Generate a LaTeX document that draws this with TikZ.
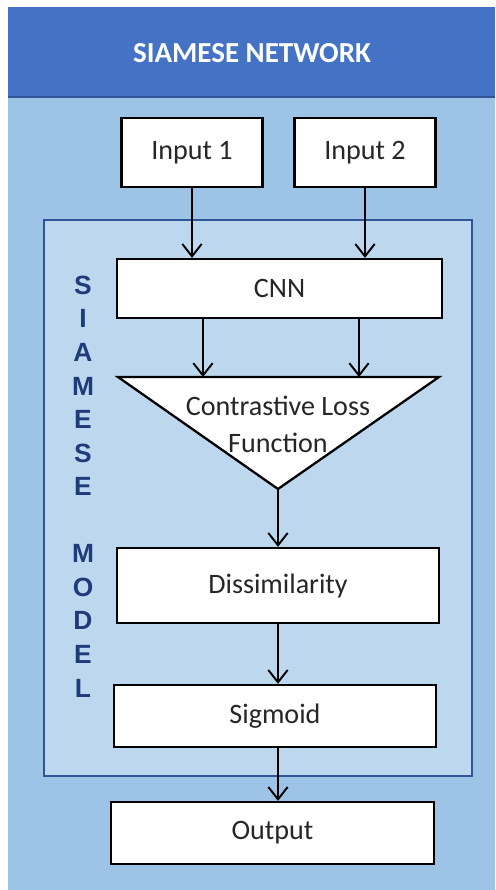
\documentclass[tikz,border=0pt]{standalone}
\usepackage{fontspec}
\setmainfont{Carlito}
\newfontfamily\arialfont{Liberation Sans}
\usepackage{tikz}
\usetikzlibrary{calc}
\usetikzlibrary{arrows.meta}
\definecolor{bandblue}{HTML}{4472C4}
\definecolor{paleblue}{HTML}{9DC3E6}
\definecolor{modelblue}{HTML}{BDD7EE}
\definecolor{edgeblue}{HTML}{2F5597}
\definecolor{letterblue}{HTML}{1F3B7A}
\definecolor{textgray}{HTML}{262626}

\begin{document}
\begin{tikzpicture}[x=0.02cm,y=-0.02cm]
        \tikzset{box/.style={draw=black,fill=white,line width=1.3pt,text=textgray,inner sep=0pt,font=\fontsize{16}{19}\selectfont},
                 arr/.style={-{Straight Barb[length=7pt,width=11pt]},line width=1.1pt}}
        
        \coordinate (page_start) at (0,0);
        \coordinate (page_end) at (495,890);
        \coordinate (band_start) at (8,7);
        \coordinate (band_end) at (495,97);
        \coordinate (model_start) at (44,220);
        \coordinate (model_end) at (472,776);
        \coordinate (t_left) at (118,377);
        \coordinate (t_right) at (439,377);
        \coordinate (t_bottom) at (278,489);
        \coordinate (in_1) at (203,377);
        \coordinate (in_2) at (359,377);
        
        \useasboundingbox (page_start) rectangle (page_end);
        \fill [white] (page_start) rectangle (page_end);
        \fill [paleblue] (band_start) rectangle (page_end);
        \fill [bandblue] (band_start) rectangle (band_end);
        \draw [edgeblue,line width=0.8pt] ($(band_start)+(0,90)$) -- (band_end);
        \filldraw [fill=modelblue,draw=edgeblue,line width=1.1pt] (model_start) rectangle (model_end);
        
        %title
        \node[text=white,font=\bfseries\fontsize{16.5}{20}\selectfont] (title) at (252,53) {SIAMESE NETWORK};
        
        %inputs
        \node[box,minimum width=2.82cm,minimum height=1.38cm] (input1) at (192,152.5) {Input 1};
        \node[box,minimum width=2.82cm,minimum height=1.38cm] (input2) at (365,152.5) {Input 2};
        
        %model
        \node[text=letterblue,align=center,font=\arialfont\bfseries\fontsize{15}{19.1}\selectfont] (model) at (83,486.5) {S\\I\\A\\M\\E\\S\\E\\[19.1pt]M\\O\\D\\E\\L};
        \node[box,minimum width=6.5cm,minimum height=1.18cm] (cnn) at (279.5,288.5) {CNN};
        \filldraw [fill=white,draw=black,line width=1.3pt,line join=miter] (t_left) -- (t_right) -- (t_bottom) -- cycle;
        \node[text=textgray,align=center,font=\fontsize{16}{21}\selectfont] (loss) at (278,424) {Contrastive Loss\\Function};
        \node[box,minimum width=6.44cm,minimum height=1.5cm] (dissim) at (278,585.5) {Dissimilarity};
        \node[box,minimum width=6.44cm,minimum height=1.24cm] (sigmoid) at (275,716) {Sigmoid};
        
        %output
        \node[box,minimum width=6.46cm,minimum height=1.24cm] (output) at (272.5,833) {Output};
        
        %arrows
        \draw [arr] (input1.south) -- (input1.south |- cnn.north);
        \draw [arr] (input2.south) -- (input2.south |- cnn.north);
        \draw [arr] (cnn.south -| in_1) -- (in_1);
        \draw [arr] (cnn.south -| in_2) -- (in_2);
        \draw [arr] (t_bottom) -- (t_bottom |- dissim.north);
        \draw [arr] (t_bottom |- dissim.south) -- (t_bottom |- sigmoid.north);
        \draw [arr] (t_bottom |- sigmoid.south) -- (t_bottom |- output.north);
\end{tikzpicture}
\end{document}
